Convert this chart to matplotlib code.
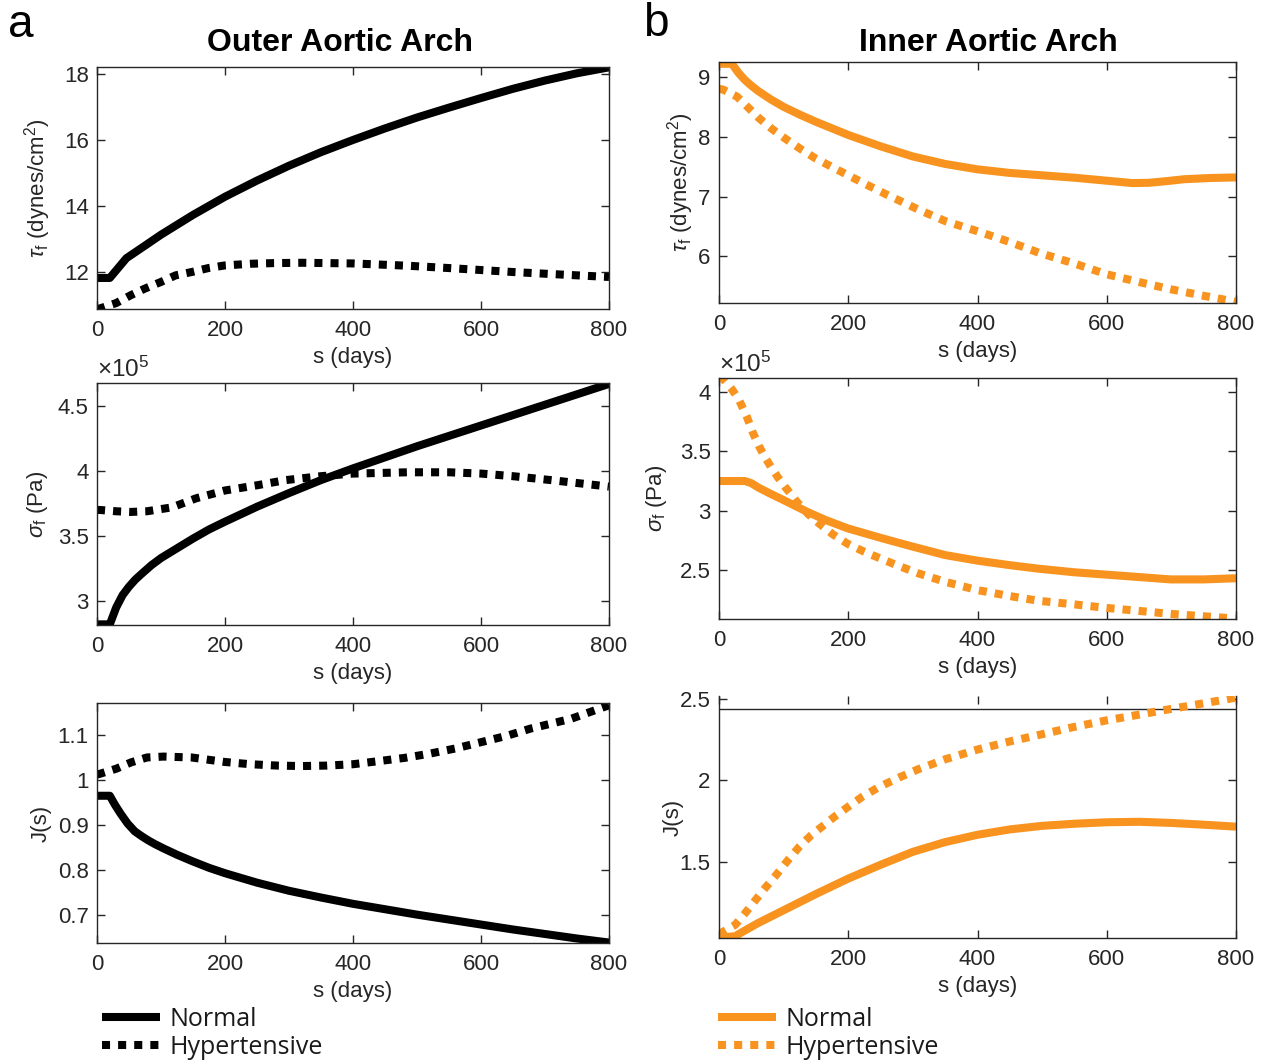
import numpy as np
import matplotlib
matplotlib.use("Agg")
import matplotlib.pyplot as plt
from matplotlib.ticker import FuncFormatter, FixedLocator
from matplotlib.lines import Line2D

# ---------------- data ----------------
# Outer aortic arch
outer_tau_norm_x = [0, 20, 46, 75, 100, 150, 200, 250, 300, 350, 400, 450, 500, 550, 600, 650, 700, 750, 800]
outer_tau_norm_y = [11.82, 11.82, 12.42, 12.8, 13.13, 13.73, 14.28, 14.77, 15.22, 15.63, 16.0, 16.35, 16.68, 16.98, 17.27, 17.55, 17.8, 18.02, 18.2]
outer_tau_hyp_x = [0, 5, 30, 53, 75, 100, 123, 148, 174, 200, 240, 276, 320, 360, 400, 486, 550, 600, 650, 709, 800]
outer_tau_hyp_y = [10.88, 10.9, 11.06, 11.3, 11.5, 11.7, 11.9, 12.0, 12.12, 12.2, 12.25, 12.27, 12.28, 12.27, 12.26, 12.19, 12.12, 12.06, 12.0, 11.94, 11.85]

outer_sig_norm_x = [0, 20, 30, 40, 50, 60, 70, 85, 100, 125, 150, 175, 200, 250, 300, 350, 400, 450, 500, 550, 600, 650, 700, 750, 800]
outer_sig_norm_y = [2.82e5, 2.82e5, 2.95e5, 3.045e5, 3.11e5, 3.165e5, 3.21e5, 3.275e5, 3.33e5, 3.405e5, 3.48e5, 3.55e5, 3.61e5, 3.725e5, 3.83e5, 3.93e5, 4.02e5, 4.105e5, 4.19e5, 4.27e5, 4.35e5, 4.43e5, 4.51e5, 4.59e5, 4.67e5]
outer_sig_hyp_x = [0, 5, 30, 53, 78, 117, 155, 200, 250, 295, 350, 400, 486, 550, 600, 650, 709, 800]
outer_sig_hyp_y = [3.70e5, 3.70e5, 3.69e5, 3.685e5, 3.69e5, 3.72e5, 3.79e5, 3.85e5, 3.89e5, 3.93e5, 3.96e5, 3.98e5, 3.99e5, 3.99e5, 3.98e5, 3.96e5, 3.93e5, 3.88e5]

outer_J_norm_x = [0, 20, 28, 37, 48, 59, 70, 80, 90, 104, 125, 150, 175, 200, 250, 300, 350, 400, 450, 500, 550, 600, 650, 700, 750, 800]
outer_J_norm_y = [0.965, 0.965, 0.945, 0.925, 0.903, 0.886, 0.875, 0.866, 0.858, 0.848, 0.834, 0.819, 0.805, 0.793, 0.772, 0.754, 0.739, 0.725, 0.713, 0.701, 0.69, 0.679, 0.668, 0.658, 0.648, 0.639]
outer_J_hyp_x = [0, 5, 30, 53, 78, 104, 148, 200, 240, 282, 320, 359, 400, 435, 480, 518, 560, 600, 640, 677, 741, 800]
outer_J_hyp_y = [1.012, 1.014, 1.025, 1.039, 1.05, 1.052, 1.05, 1.04, 1.035, 1.032, 1.031, 1.032, 1.035, 1.041, 1.049, 1.058, 1.07, 1.084, 1.098, 1.114, 1.136, 1.166]

# Inner aortic arch
inner_tau_norm_x = [0, 20, 30, 40, 50, 60, 80, 100, 125, 150, 200, 250, 300, 350, 400, 450, 500, 550, 600, 640, 665, 690, 720, 760, 800]
inner_tau_norm_y = [9.22, 9.22, 9.07, 8.95, 8.855, 8.77, 8.625, 8.5, 8.37, 8.25, 8.03, 7.84, 7.67, 7.545, 7.455, 7.395, 7.355, 7.315, 7.265, 7.225, 7.23, 7.255, 7.29, 7.31, 7.32]
inner_tau_hyp_x = [0, 6, 28, 45, 62, 82, 105, 127, 149, 174, 199, 230, 260, 309, 350, 400, 450, 495, 550, 600, 650, 699, 750, 800]
inner_tau_hyp_y = [8.8, 8.79, 8.67, 8.49, 8.31, 8.13, 7.95, 7.79, 7.64, 7.5, 7.36, 7.19, 7.03, 6.78, 6.59, 6.42, 6.24, 6.06, 5.88, 5.70, 5.57, 5.45, 5.34, 5.24]

inner_sig_norm_x = [0, 40, 50, 62, 80, 99, 136, 165, 199, 250, 297, 350, 400, 450, 495, 550, 600, 650, 699, 750, 800]
inner_sig_norm_y = [3.248e5, 3.248e5, 3.23e5, 3.19e5, 3.14e5, 3.09e5, 2.99e5, 2.92e5, 2.85e5, 2.77e5, 2.70e5, 2.625e5, 2.578e5, 2.54e5, 2.51e5, 2.48e5, 2.46e5, 2.44e5, 2.42e5, 2.42e5, 2.43e5]
inner_sig_hyp_x = [0, 6, 20, 31, 43, 52, 62, 71, 80, 91, 102, 121, 138, 155, 176, 199, 222, 248, 275, 309, 350, 400, 450, 495, 550, 600, 650, 699, 750, 800]
inner_sig_hyp_y = [4.12e5, 4.11e5, 4.02e5, 3.93e5, 3.79e5, 3.66e5, 3.54e5, 3.45e5, 3.37e5, 3.28e5, 3.20e5, 3.07e5, 2.97e5, 2.89e5, 2.80e5, 2.72e5, 2.66e5, 2.60e5, 2.54e5, 2.47e5, 2.40e5, 2.33e5, 2.28e5, 2.24e5, 2.21e5, 2.18e5, 2.155e5, 2.13e5, 2.11e5, 2.09e5]

inner_J_norm_x = [0, 10, 25, 40, 60, 80, 100, 150, 200, 250, 300, 350, 400, 450, 500, 550, 600, 650, 700, 750, 800]
inner_J_norm_y = [1.05, 1.035, 1.04, 1.075, 1.12, 1.16, 1.20, 1.30, 1.395, 1.48, 1.56, 1.62, 1.665, 1.698, 1.72, 1.733, 1.742, 1.745, 1.738, 1.727, 1.715]
inner_J_hyp_x = [0, 3, 25, 40, 56, 72, 87, 105, 124, 142, 161, 180, 199, 222, 248, 280, 309, 350, 400, 450, 495, 550, 600, 650, 699, 750, 800]
inner_J_hyp_y = [1.05, 1.06, 1.11, 1.18, 1.26, 1.34, 1.41, 1.5, 1.59, 1.66, 1.72, 1.78, 1.835, 1.9, 1.96, 2.02, 2.07, 2.13, 2.19, 2.24, 2.28, 2.33, 2.37, 2.405, 2.44, 2.475, 2.51]

x_ticks = [0, 200, 400, 600, 800]
legend_labels = ["Normal", "Hypertensive"]
titles = ["Outer Aortic Arch", "Inner Aortic Arch"]

# ---------------- style ----------------
plt.rcParams['font.family'] = ['Liberation Sans', 'DejaVu Sans']
plt.rcParams['mathtext.fontset'] = 'custom'
plt.rcParams['mathtext.rm'] = 'Liberation Sans'
plt.rcParams['mathtext.it'] = 'Liberation Sans:italic'
plt.rcParams['mathtext.bf'] = 'Liberation Sans:bold'

AX_COL = '#262626'
ORANGE = '#F7931E'
LW = 5.8
TICK_FS = 16
LABEL_FS = 16

W, H = 1265, 1061
fig = plt.figure(figsize=(W / 100, H / 100), dpi=100)


def px_axes(l, t, r, b):
    return fig.add_axes([l / W, 1 - b / H, (r - l) / W, (b - t) / H])


def style(ax, yticks, ylim, fmt=None):
    ax.set_xlim(0, 800)
    ax.set_ylim(*ylim)
    ax.xaxis.set_major_locator(FixedLocator(x_ticks))
    ax.yaxis.set_major_locator(FixedLocator(yticks))
    if fmt is not None:
        ax.yaxis.set_major_formatter(fmt)
    else:
        ax.yaxis.set_major_formatter(FuncFormatter(lambda v, p: f"{v:g}"))
    ax.tick_params(direction='in', length=6, width=1, colors=AX_COL,
                   top=True, right=True, labelsize=TICK_FS, pad=8)
    ax.tick_params(axis='y', pad=6)
    for s in ax.spines.values():
        s.set_color(AX_COL)
        s.set_linewidth(1.0)
    ax.set_xlabel("s (days)", fontsize=LABEL_FS, color=AX_COL, labelpad=4)


def plot_pair(ax, xn, yn, xh, yh, color):
    ax.plot(xn, yn, color=color, lw=LW, solid_capstyle='butt', solid_joinstyle='round')
    ax.plot(xh, yh, color=color, lw=LW, linestyle=(0, (1, 1)), dash_capstyle='butt')


sci = FuncFormatter(lambda v, p: f"{v / 1e5:g}")
tau_label = r'$\tau_{\rm f}$ (dynes/cm$^2$)'
sig_label = r'$\sigma_{\rm f}$ (Pa)'

# ---- left column ----
a1 = px_axes(97, 67, 609, 309)
plot_pair(a1, outer_tau_norm_x, outer_tau_norm_y, outer_tau_hyp_x, outer_tau_hyp_y, 'black')
style(a1, [12, 14, 16, 18], (10.88, 18.21))
a1.set_ylabel(tau_label, fontsize=LABEL_FS, color=AX_COL, labelpad=7.5)

a2 = px_axes(97, 383, 609, 625)
plot_pair(a2, outer_sig_norm_x, outer_sig_norm_y, outer_sig_hyp_x, outer_sig_hyp_y, 'black')
style(a2, [3e5, 3.5e5, 4e5, 4.5e5], (2.815e5, 4.677e5), sci)
a2.set_ylabel(sig_label, fontsize=LABEL_FS, color=AX_COL, labelpad=5.5)
a2.text(0.0, 1.005, r'$\times$10$^5$', transform=a2.transAxes, fontsize=17.5,
        color=AX_COL, ha='left', va='bottom')

a3 = px_axes(97, 703, 609, 943)
plot_pair(a3, outer_J_norm_x, outer_J_norm_y, outer_J_hyp_x, outer_J_hyp_y, 'black')
style(a3, [0.7, 0.8, 0.9, 1.0, 1.1], (0.638, 1.171))
a3.set_ylabel("J(s)", fontsize=LABEL_FS, color=AX_COL, labelpad=4.5)

# ---- right column ----
b1 = px_axes(719, 62, 1236, 303)
plot_pair(b1, inner_tau_norm_x, inner_tau_norm_y, inner_tau_hyp_x, inner_tau_hyp_y, ORANGE)
style(b1, [6, 7, 8, 9], (5.22, 9.25))
b1.set_ylabel(tau_label, fontsize=LABEL_FS, color=AX_COL, labelpad=2)

b2 = px_axes(719, 378, 1236, 619)
plot_pair(b2, inner_sig_norm_x, inner_sig_norm_y, inner_sig_hyp_x, inner_sig_hyp_y, ORANGE)
style(b2, [2.5e5, 3e5, 3.5e5, 4e5], (2.087e5, 4.115e5), sci)
b2.set_ylabel(sig_label, fontsize=LABEL_FS, color=AX_COL, labelpad=8)
b2.text(0.0, 1.005, r'$\times$10$^5$', transform=b2.transAxes, fontsize=17.5,
        color=AX_COL, ha='left', va='bottom')

b3 = px_axes(719, 696, 1236, 938)
plot_pair(b3, inner_J_norm_x, inner_J_norm_y, inner_J_hyp_x, inner_J_hyp_y, ORANGE)
style(b3, [1.5, 2.0, 2.5], (1.029, 2.52))
b3.spines['top'].set_visible(False)
b3.axhline(2.44, color=AX_COL, lw=1.0, zorder=1)
b3.set_ylabel("J(s)", fontsize=LABEL_FS, color=AX_COL, labelpad=-3)

# ---- titles and panel letters ----
fig.text(340 / W, 1 - 43 / H, titles[0], fontsize=23, fontweight='bold', ha='center', va='center')
fig.text(988 / W, 1 - 43 / H, titles[1], fontsize=23, fontweight='bold', ha='center', va='center')
fig.text(8 / W, 1 - 25 / H, "a", fontsize=33, ha='left', va='center')
fig.text(643 / W, 1 - 24 / H, "b", fontsize=33, ha='left', va='center')


# ---- legends ----
def make_legend(x0, color):
    h = [Line2D([], [], color=color, lw=LW, solid_capstyle='butt'),
         Line2D([], [], color=color, lw=LW, linestyle=(0, (1, 1)), dash_capstyle='butt')]
    leg = fig.legend(h, legend_labels, loc='upper left',
                     bbox_to_anchor=(x0 / W, 1 - 1007 / H),
                     frameon=False, borderpad=0, borderaxespad=0,
                     handlelength=2.3, handletextpad=0.4, labelspacing=0.12,
                     prop={'family': 'Open Sans', 'size': 18})
    for t in leg.get_texts():
        t.set_color('#1a1a1a')
    return leg


make_legend(102, 'black')
make_legend(718, ORANGE)

fig.savefig("out.png", dpi=100)
